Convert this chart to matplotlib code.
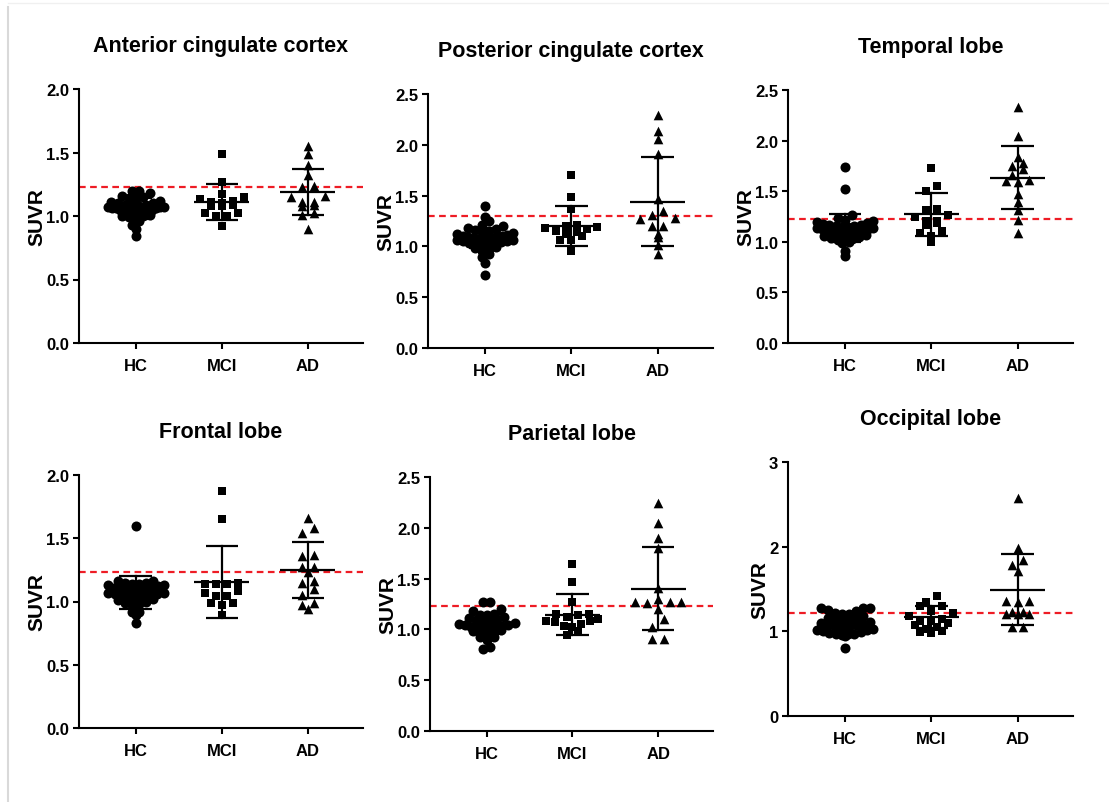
import numpy as np
import matplotlib
matplotlib.use("Agg")
import matplotlib.pyplot as plt
from matplotlib.lines import Line2D

plt.rcParams['font.family'] = ['Liberation Sans', 'DejaVu Sans']
plt.rcParams['font.weight'] = 'bold'

groups = ["HC", "MCI", "AD"]
titles = ["Anterior cingulate cortex", "Posterior cingulate cortex", "Temporal lobe",
          "Frontal lobe", "Parietal lobe", "Occipital lobe"]
ymax = [2.0, 2.5, 2.5, 2.0, 2.5, 3.0]
ystep = [0.5, 0.5, 0.5, 0.5, 0.5, 1.0]
cutoff = [1.23, 1.30, 1.23, 1.23, 1.23, 1.22]

# SUVR values, one list per group
acc_hc = [0.84, 0.90, 0.93, 0.96, 0.98, 0.99, 1.00, 1.00, 1.01, 1.02, 1.02, 1.03, 1.03,
          1.04, 1.04, 1.05, 1.05, 1.05, 1.06, 1.06, 1.06, 1.07, 1.07, 1.07, 1.08, 1.08,
          1.09, 1.09, 1.10, 1.10, 1.11, 1.12, 1.13, 1.14, 1.15, 1.16, 1.18, 1.20, 1.20]
acc_mci = [1.49, 1.27, 1.17, 1.15, 1.13, 1.12, 1.11, 1.10, 1.09, 1.08, 1.08, 1.02, 1.02,
           1.00, 1.00, 0.92]
acc_ad = [1.55, 1.49, 1.40, 1.32, 1.23, 1.24, 1.15, 1.11, 1.08, 1.09, 1.11, 1.16, 1.02,
          1.01, 0.90]

pcc_hc = [0.72, 0.84, 0.90, 0.93, 0.95, 0.97, 0.98, 0.99, 1.00, 1.01, 1.02, 1.03, 1.03,
          1.04, 1.05, 1.05, 1.06, 1.06, 1.07, 1.07, 1.08, 1.08, 1.09, 1.09, 1.10, 1.10,
          1.11, 1.12, 1.13, 1.14, 1.15, 1.16, 1.17, 1.18, 1.20, 1.21, 1.25, 1.29, 1.40]
pcc_mci = [1.70, 1.49, 1.37, 1.21, 1.20, 1.19, 1.18, 1.17, 1.15, 1.14, 1.12, 1.10, 1.06,
           1.06, 0.95]
pcc_ad = [2.29, 2.14, 2.06, 1.91, 1.47, 1.35, 1.31, 1.27, 1.28, 1.20, 1.20, 1.12, 1.09,
          1.01, 0.93]

tem_hc = [0.86, 0.91, 0.99, 1.00, 1.01, 1.02, 1.03, 1.04, 1.05, 1.06, 1.07, 1.08, 1.08,
          1.09, 1.10, 1.10, 1.11, 1.12, 1.12, 1.13, 1.13, 1.14, 1.14, 1.15, 1.15, 1.16,
          1.16, 1.17, 1.17, 1.18, 1.19, 1.20, 1.21, 1.22, 1.24, 1.26, 1.52, 1.74]
tem_mci = [1.73, 1.55, 1.50, 1.32, 1.31, 1.26, 1.21, 1.21, 1.19, 1.17, 1.11, 1.09, 1.06,
           1.00, 1.25]
tem_ad = [2.33, 2.05, 1.84, 1.78, 1.75, 1.72, 1.66, 1.61, 1.59, 1.60, 1.47, 1.39, 1.31,
          1.22, 1.09]

fro_hc = [0.83, 0.89, 0.92, 0.92, 0.97, 0.98, 0.99, 1.00, 1.01, 1.02, 1.03, 1.03, 1.04,
          1.05, 1.05, 1.06, 1.06, 1.07, 1.07, 1.08, 1.08, 1.09, 1.09, 1.10, 1.10, 1.11,
          1.11, 1.12, 1.13, 1.13, 1.14, 1.14, 1.15, 1.15, 1.16, 1.16, 1.60]
fro_mci = [1.87, 1.65, 1.15, 1.14, 1.14, 1.14, 1.08, 1.07, 1.04, 1.04, 0.99, 0.97, 0.99,
           0.89]
fro_ad = [1.66, 1.58, 1.54, 1.37, 1.36, 1.27, 1.23, 1.27, 1.15, 1.16, 1.10, 1.05, 0.99,
          0.97, 0.94]

par_hc = [0.81, 0.83, 0.90, 0.93, 0.93, 0.95, 0.96, 0.97, 0.98, 0.99, 1.00, 1.00, 1.01,
          1.02, 1.02, 1.03, 1.04, 1.04, 1.05, 1.06, 1.07, 1.08, 1.09, 1.10, 1.11, 1.12,
          1.14, 1.14, 1.15, 1.18, 1.20, 1.27, 1.27]
par_mci = [1.64, 1.47, 1.27, 1.15, 1.15, 1.14, 1.12, 1.08, 1.07, 1.08, 1.05, 1.03, 1.02,
           0.98, 0.94, 1.10]
par_ad = [2.24, 2.05, 1.90, 1.80, 1.41, 1.30, 1.27, 1.26, 1.27, 1.27, 1.20, 1.10, 1.02,
          0.91, 0.91]

occ_hc = [0.80, 0.95, 0.96, 0.97, 0.97, 0.97, 0.98, 0.99, 1.00, 1.01, 1.02, 1.03, 1.04,
          1.05, 1.06, 1.07, 1.08, 1.09, 1.10, 1.11, 1.12, 1.13, 1.14, 1.15, 1.16, 1.18,
          1.20, 1.21, 1.22, 1.24, 1.25, 1.27, 1.28, 1.28]
occ_mci = [1.42, 1.35, 1.30, 1.30, 1.24, 1.22, 1.18, 1.15, 1.12, 1.10, 1.08, 1.05, 1.03,
           1.00, 0.98, 0.99, 1.12]
occ_ad = [2.57, 1.99, 1.84, 1.78, 1.71, 1.36, 1.35, 1.36, 1.23, 1.20, 1.20, 1.20, 1.23,
          1.05, 1.05]

# mean and SD lines as drawn in the picture (HC, MCI, AD)
means = [[1.06, 1.11, 1.19], [1.08, 1.20, 1.44], [1.135, 1.27, 1.635],
         [1.07, 1.155, 1.25], [1.053, 1.145, 1.40], [1.08, 1.165, 1.49]]
sds = [[0.08, 0.14, 0.18], [0.10, 0.20, 0.44], [0.14, 0.21, 0.31],
       [0.13, 0.285, 0.22], [0.10, 0.20, 0.41], [0.09, 0.13, 0.42]]

data = [[acc_hc, acc_mci, acc_ad], [pcc_hc, pcc_mci, pcc_ad], [tem_hc, tem_mci, tem_ad],
        [fro_hc, fro_mci, fro_ad], [par_hc, par_mci, par_ad], [occ_hc, occ_mci, occ_ad]]

# axes boxes in pixels: left, right, top, bottom
W, H = 1109, 803
boxes = [(79, 363, 90, 344), (428, 713, 95, 349), (788, 1073, 91, 344),
         (79, 363, 476, 729), (430, 713, 478, 732), (788, 1073, 463, 717)]

markers = ['o', 's', '^']
msize = [52, 40, 48]
row_h = [7.0, 9.0, 9.0]      # height of a swarm row in pixels
col_w = [7.0, 11.0, 11.5]    # spacing of points inside a row in pixels
half_max = [28.0, 26.0, 26.0]  # widest half-spread of a row in pixels


def swarm_rows(vals, sx, sy, rh, cw, hm):
    # GraphPad-like scatter: points binned into rows, each row filled centre-out
    vals = np.asarray(vals)
    off = np.zeros(len(vals))
    rows = np.floor(vals * sy / rh + 0.5).astype(int)
    for rr in np.unique(rows):
        idx = np.where(rows == rr)[0]
        idx = idx[np.argsort(vals[idx])]
        n = len(idx)
        step = cw if n < 2 else min(cw, 2 * hm / (n - 1))
        slots = np.arange(n) - (n - 1) / 2
        slots = slots[np.argsort(np.abs(slots) + 1e-3 * slots)]
        for j, i in enumerate(idx):
            off[i] = slots[j] * step / sx
    return off


fig = plt.figure(figsize=(W / 100, H / 100), dpi=100)

for k in range(6):
    l, r, t, b = boxes[k]
    ax = fig.add_axes([l / W, 1 - b / H, (r - l) / W, (b - t) / H])
    ax.set_xlim(-0.66, 2.64)
    ax.set_ylim(0, ymax[k])
    sx = (r - l) / 3.30
    sy = (b - t) / ymax[k]

    ax.axhline(cutoff[k], color='#ee1c25', lw=1.6, dashes=(3, 2), zorder=1)

    for g in range(3):
        vals = data[k][g]
        off = swarm_rows(vals, sx, sy, row_h[g], col_w[g], half_max[g])
        ax.scatter(g + off, vals, marker=markers[g], s=msize[g], color='black',
                   linewidths=0, zorder=3)
        m, s = means[k][g], sds[k][g]
        ax.plot([g - 0.32, g + 0.32], [m, m], color='black', lw=1.6, zorder=4,
                solid_capstyle='butt')
        ax.plot([g, g], [m - s, m + s], color='black', lw=1.6, zorder=4)
        for yy in (m - s, m + s):
            ax.plot([g - 0.19, g + 0.19], [yy, yy], color='black', lw=1.6, zorder=4,
                    solid_capstyle='butt')

    ticks = np.arange(0, ymax[k] + 1e-9, ystep[k])
    ax.set_yticks(ticks)
    if ystep[k] >= 1:
        ax.set_yticklabels(["%d" % v for v in ticks])
    else:
        ax.set_yticklabels(["%.1f" % v for v in ticks])
    ax.set_xticks(range(3))
    ax.set_xticklabels(groups)
    for sp in ['top', 'right']:
        ax.spines[sp].set_visible(False)
    for sp in ['left', 'bottom']:
        ax.spines[sp].set_linewidth(1.5)
    ax.tick_params(axis='both', width=1.5, length=4, labelsize=12)
    ax.tick_params(axis='y', pad=3)
    ax.tick_params(axis='x', pad=7)
    ax.set_ylabel("SUVR", fontsize=15, fontweight='bold', labelpad=0)
    ax.annotate(titles[k], xy=(0.5, 1), xycoords='axes fraction', xytext=(0, 31),
                textcoords='offset points', ha='center', va='center',
                fontsize=15.5, fontweight='bold')

# faint frame lines of the original scan
fig.add_artist(Line2D([8 / W, 8 / W], [0, 1 - 8 / H], color='#d9d9d9', lw=1.5))
fig.add_artist(Line2D([8 / W, 1], [1 - 4 / H, 1 - 4 / H], color='#f0f0f0', lw=1))

fig.savefig("out.png", dpi=100)
